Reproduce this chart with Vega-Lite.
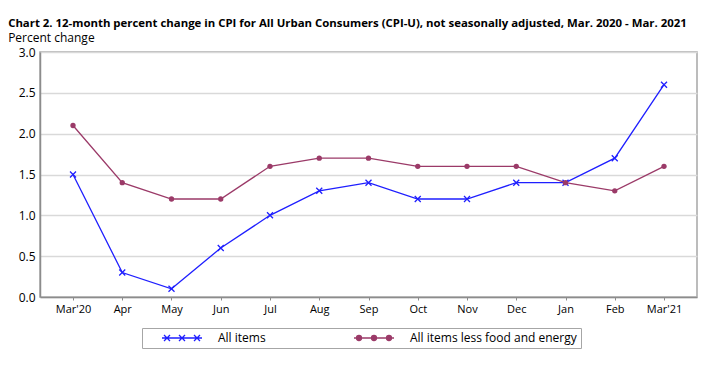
{
  "$schema": "https://vega.github.io/schema/vega-lite/v6.json",
  "width": 657,
  "height": 245,
  "autosize": {"type": "none"},
  "padding": {"left": 40, "top": 52, "right": 23, "bottom": 69},
  "background": "white",
  "config": {
    "font": "Open Sans",
    "view": {"stroke": "#a6a6a6", "strokeWidth": 1.5}
  },
  "title": {
    "text": "Chart 2. 12-month percent change in CPI for All Urban Consumers (CPI-U), not seasonally adjusted, Mar. 2020 - Mar. 2021",
    "subtitle": "Percent change",
    "anchor": "start",
    "dx": -10,
    "offset": 2.5,
    "font": "Open Sans",
    "fontSize": 11.4,
    "fontWeight": "bold",
    "color": "#000000",
    "subtitleFont": "Open Sans",
    "subtitleFontSize": 12,
    "subtitleColor": "#000000",
    "subtitlePadding": 3
  },
  "data": {
    "values": [
      {"month": "Mar'20", "series": "All items", "value": 1.5},
      {"month": "Apr", "series": "All items", "value": 0.3},
      {"month": "May", "series": "All items", "value": 0.1},
      {"month": "Jun", "series": "All items", "value": 0.6},
      {"month": "Jul", "series": "All items", "value": 1.0},
      {"month": "Aug", "series": "All items", "value": 1.3},
      {"month": "Sep", "series": "All items", "value": 1.4},
      {"month": "Oct", "series": "All items", "value": 1.2},
      {"month": "Nov", "series": "All items", "value": 1.2},
      {"month": "Dec", "series": "All items", "value": 1.4},
      {"month": "Jan", "series": "All items", "value": 1.4},
      {"month": "Feb", "series": "All items", "value": 1.7},
      {"month": "Mar'21", "series": "All items", "value": 2.6},
      {"month": "Mar'20", "series": "All items less food and energy", "value": 2.1},
      {"month": "Apr", "series": "All items less food and energy", "value": 1.4},
      {"month": "May", "series": "All items less food and energy", "value": 1.2},
      {"month": "Jun", "series": "All items less food and energy", "value": 1.2},
      {"month": "Jul", "series": "All items less food and energy", "value": 1.6},
      {"month": "Aug", "series": "All items less food and energy", "value": 1.7},
      {"month": "Sep", "series": "All items less food and energy", "value": 1.7},
      {"month": "Oct", "series": "All items less food and energy", "value": 1.6},
      {"month": "Nov", "series": "All items less food and energy", "value": 1.6},
      {"month": "Dec", "series": "All items less food and energy", "value": 1.6},
      {"month": "Jan", "series": "All items less food and energy", "value": 1.4},
      {"month": "Feb", "series": "All items less food and energy", "value": 1.3},
      {"month": "Mar'21", "series": "All items less food and energy", "value": 1.6}
    ]
  },
  "encoding": {
    "x": {
      "field": "month",
      "type": "ordinal",
      "sort": null,
      "scale": {"type": "point", "padding": 0.67},
      "axis": {
        "title": null,
        "labelAngle": 0,
        "labelFont": "Open Sans",
        "labelFontSize": 11,
        "labelColor": "#000000",
        "labelPadding": 3,
        "domainColor": "#8c8c8c",
        "domainWidth": 1.5,
        "tickColor": "#8c8c8c",
        "tickSize": 3,
        "grid": false
      }
    },
    "y": {
      "field": "value",
      "type": "quantitative",
      "scale": {"domain": [0, 3], "nice": false, "zero": true},
      "axis": {
        "title": null,
        "values": [0, 0.5, 1, 1.5, 2, 2.5, 3],
        "format": ".1f",
        "labelFont": "Open Sans",
        "labelFontSize": 12,
        "labelColor": "#000000",
        "labelPadding": 5,
        "ticks": false,
        "domainColor": "#8c8c8c",
        "domainWidth": 1.5,
        "grid": true,
        "gridColor": "#d9d9d9",
        "gridWidth": 1.5
      }
    }
  },
  "layer": [
    {
      "mark": {"type": "line", "strokeWidth": 1.3},
      "encoding": {
        "color": {
          "field": "series",
          "type": "nominal",
          "scale": {
            "domain": ["All items", "All items less food and energy"],
            "range": ["#1f1fff", "#9b3a68"]
          },
          "legend": {
            "title": null,
            "orient": "none",
            "legendX": 102,
            "legendY": 276,
            "direction": "horizontal",
            "symbolSize": 4,
            "symbolOffset": 30,
            "labelOffset": 30,
            "labelLimit": 400,
            "columnPadding": 72,
            "padding": 4,
            "strokeColor": "#a6a6a6",
            "labelFont": "Open Sans",
            "labelFontSize": 12,
            "labelColor": "#000000",
            "encode": {
              "symbols": {
                "update": {
                  "shape": {"signal": "datum.value === 'All items' ? 'M-20,0L20,0M-18,-3L-12,3M-18,3L-12,-3M-3,-3L3,3M-3,3L3,-3M12,-3L18,3M12,3L18,-3' : 'M-20,0L20,0M-12.5,0A2.5,2.5 0 1,0 -17.5,0A2.5,2.5 0 1,0 -12.5,0ZM2.5,0A2.5,2.5 0 1,0 -2.5,0A2.5,2.5 0 1,0 2.5,0ZM17.5,0A2.5,2.5 0 1,0 12.5,0A2.5,2.5 0 1,0 17.5,0Z'"},
                  "stroke": {"signal": "datum.value === 'All items' ? '#1f1fff' : '#9b3a68'"},
                  "fill": {"signal": "datum.value === 'All items' ? 'transparent' : '#9b3a68'"},
                  "strokeWidth": {"value": 1.3},
                  "opacity": {"value": 1}
                }
              }
            }
          }
        }
      }
    },
    {
      "transform": [{"filter": "datum.series === 'All items'"}],
      "mark": {
        "type": "point",
        "shape": "M-1,-1L1,1M-1,1L1,-1",
        "size": 36,
        "filled": false,
        "color": "#1f1fff",
        "strokeWidth": 1.3,
        "opacity": 1
      }
    },
    {
      "transform": [{"filter": "datum.series === 'All items less food and energy'"}],
      "mark": {
        "type": "point",
        "shape": "circle",
        "size": 28,
        "filled": true,
        "color": "#9b3a68",
        "opacity": 1
      }
    }
  ]
}
